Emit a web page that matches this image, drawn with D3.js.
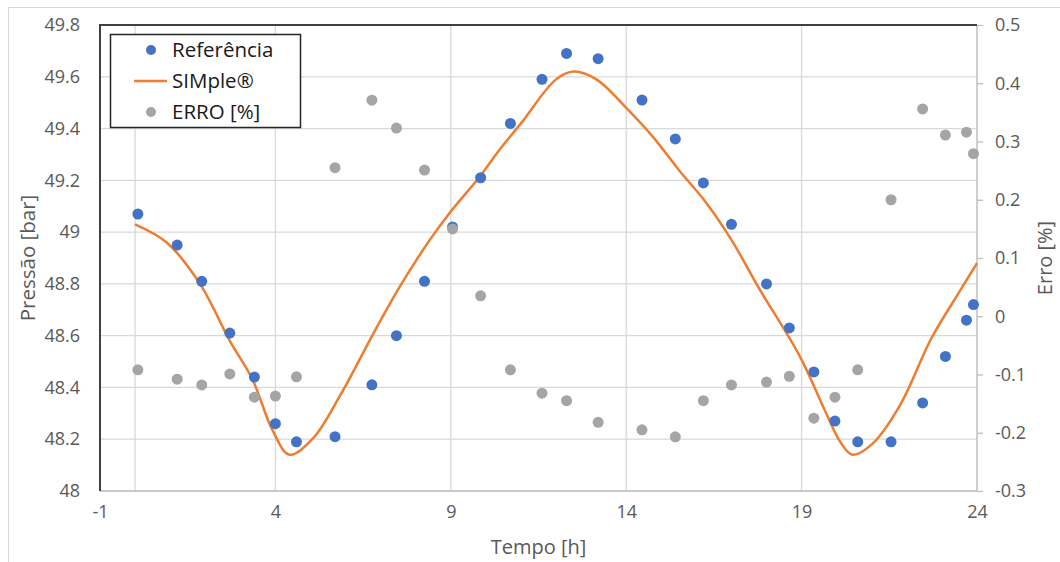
<!DOCTYPE html>
<html>
<head>
<meta charset="utf-8">
<script src="https://cdn.jsdelivr.net/npm/d3@7"></script>
<style>
  body { margin: 0; background: #fff; }
  svg text { font-family: "Open Sans", "Noto Sans", sans-serif; }
</style>
</head>
<body>
<div id="container"></div>
<script>
/* DATA */
// time of each reference sample [h]
const tempo = [0.08, 1.2, 1.9, 2.7, 3.4, 4.0, 4.6, 5.7, 6.75, 7.45, 8.25, 9.05, 9.85, 10.7, 11.6, 12.3,
  13.2, 14.45, 15.4, 16.2, 17.0, 18.0, 18.65, 19.35, 19.95, 20.6, 21.55, 22.45, 23.1, 23.7, 23.9];
// Referência [bar]
const referencia = [49.07, 48.95, 48.81, 48.61, 48.44, 48.26, 48.19, 48.21, 48.41, 48.60, 48.81, 49.02,
  49.21, 49.42, 49.59, 49.69, 49.67, 49.51, 49.36, 49.19, 49.03, 48.80, 48.63, 48.46, 48.27, 48.19,
  48.19, 48.34, 48.52, 48.66, 48.72];
// ERRO [%]
const erro = [-0.092, -0.108, -0.118, -0.099, -0.139, -0.137, -0.104, 0.255, 0.371, 0.323, 0.251, 0.150,
  0.035, -0.092, -0.132, -0.145, -0.182, -0.195, -0.207, -0.145, -0.118, -0.113, -0.103, -0.175,
  -0.139, -0.092, 0.200, 0.356, 0.311, 0.316, 0.279];
// SIMple® curve
const simTempo = [0, 0.9, 1.85, 2.7, 3.35, 3.9, 4.4, 5.05, 5.85, 6.8, 7.55, 8.4, 9.0, 9.8, 10.4, 11.0,
  12.0, 12.5, 13.15, 14.0, 14.75, 15.5, 16.3, 17.0, 17.8, 18.95, 19.7, 20.1, 20.45, 21.0, 21.8, 22.7, 23.5, 24.0];
const simPressao = [49.03, 48.96, 48.80, 48.58, 48.43, 48.24, 48.14, 48.20, 48.37, 48.61, 48.79,
  48.97, 49.08, 49.21, 49.32, 49.42, 49.59, 49.62, 49.59, 49.48, 49.37, 49.24, 49.11, 48.97, 48.78,
  48.52, 48.30, 48.19, 48.14, 48.18, 48.33, 48.59, 48.77, 48.88];

const xTicks = [-1, 4, 9, 14, 19, 24];
const yLeftTicks = [48, 48.2, 48.4, 48.6, 48.8, 49, 49.2, 49.4, 49.6, 49.8];
const yRightTicks = [-0.3, -0.2, -0.1, 0, 0.1, 0.2, 0.3, 0.4, 0.5];

/* CONSTANTS */
const width = 1060, height = 562;
const plotLeft = 100, plotRight = 977, plotTop = 25, plotBottom = 491;
const fmt = d => String(+d.toFixed(1));

const svg = d3.select("#container").append("svg")
  .attr("width", width)
  .attr("height", height);

// chart area border
svg.append("rect")
  .attr("x", 8.5).attr("y", 7.5)
  .attr("width", width + 20).attr("height", height + 20)
  .attr("fill", "#fff").attr("stroke", "#d9d9d9");

const xScale = d3.scaleLinear().domain([-1, 24]).range([plotLeft, plotRight]);
const yLeft = d3.scaleLinear().domain([48, 49.8]).range([plotBottom, plotTop]);
const yRight = d3.scaleLinear().domain([-0.3, 0.5]).range([plotBottom, plotTop]);

// gridlines
svg.append("g").selectAll("line")
  .data(yLeftTicks)
  .join("line")
  .attr("x1", plotLeft).attr("x2", plotRight)
  .attr("y1", d => yLeft(d)).attr("y2", d => yLeft(d))
  .attr("stroke", "#d9d9d9").attr("stroke-width", 1.3);

svg.append("g").selectAll("line")
  .data([0, 4, 9, 14, 19])
  .join("line")
  .attr("x1", d => xScale(d)).attr("x2", d => xScale(d))
  .attr("y1", plotTop).attr("y2", plotBottom)
  .attr("stroke", "#d9d9d9").attr("stroke-width", 1.3);

// axes
const xAxis = d3.axisBottom(xScale).tickValues(xTicks).tickFormat(fmt).tickSize(0).tickPadding(14);
const yAxisL = d3.axisLeft(yLeft).tickValues(yLeftTicks).tickFormat(fmt).tickSize(0).tickPadding(20);
const yAxisR = d3.axisRight(yRight).tickValues(yRightTicks).tickFormat(fmt).tickSize(6).tickPadding(12);

const xg = svg.append("g").attr("transform", `translate(0, ${plotBottom})`).call(xAxis);
const ylg = svg.append("g").attr("transform", `translate(${plotLeft}, 0)`).call(yAxisL);
const yrg = svg.append("g").attr("transform", `translate(${plotRight}, 0)`).call(yAxisR);

[xg, ylg, yrg].forEach(g => {
  g.selectAll("text").attr("fill", "#595959").style("font-size", "18px");
  g.select(".domain").remove();
});
yrg.selectAll(".tick line").attr("stroke", "#bfbfbf").attr("stroke-width", 1.3);

// plot frame: bottom and right gray, left and top dark
svg.append("line").attr("x1", plotLeft).attr("x2", plotRight).attr("y1", plotBottom).attr("y2", plotBottom)
  .attr("stroke", "#bfbfbf").attr("stroke-width", 1.5);
svg.append("line").attr("x1", plotRight).attr("x2", plotRight).attr("y1", plotTop).attr("y2", plotBottom)
  .attr("stroke", "#bfbfbf").attr("stroke-width", 1.5);
svg.append("line").attr("x1", plotLeft).attr("x2", plotRight).attr("y1", plotTop).attr("y2", plotTop)
  .attr("stroke", "#404040").attr("stroke-width", 2);
svg.append("line").attr("x1", plotLeft).attr("x2", plotLeft).attr("y1", plotTop - 1).attr("y2", plotBottom)
  .attr("stroke", "#404040").attr("stroke-width", 2);

// SIMple® line
const simData = simTempo.map((t, i) => ({ t, v: simPressao[i] }));
svg.append("path")
  .datum(simData)
  .attr("fill", "none")
  .attr("stroke", "#ED7D31")
  .attr("stroke-width", 2.5)
  .attr("d", d3.line().x(d => xScale(d.t)).y(d => yLeft(d.v)).curve(d3.curveCatmullRom.alpha(0.5)));

// Referência points
svg.append("g").selectAll("circle")
  .data(tempo.map((t, i) => ({ t, v: referencia[i] })))
  .join("circle")
  .attr("cx", d => xScale(d.t)).attr("cy", d => yLeft(d.v))
  .attr("r", 5.5).attr("fill", "#4472C4");

// ERRO points (secondary axis)
svg.append("g").selectAll("circle")
  .data(tempo.map((t, i) => ({ t, v: erro[i] })))
  .join("circle")
  .attr("cx", d => xScale(d.t)).attr("cy", d => yRight(d.v))
  .attr("r", 5.5).attr("fill", "#A5A5A5");

// axis titles
svg.append("text")
  .attr("x", (plotLeft + plotRight) / 2).attr("y", 554)
  .attr("text-anchor", "middle")
  .attr("fill", "#595959").style("font-size", "20px")
  .text("Tempo [h]");
svg.append("text")
  .attr("transform", `translate(35, ${(plotTop + plotBottom) / 2}) rotate(-90)`)
  .attr("text-anchor", "middle")
  .attr("fill", "#595959").style("font-size", "20.5px")
  .text("Pressão [bar]");
svg.append("text")
  .attr("transform", `translate(1052, ${(plotTop + plotBottom) / 2}) rotate(-90)`)
  .attr("text-anchor", "middle")
  .attr("fill", "#595959").style("font-size", "20px")
  .text("Erro [%]");

// legend
const legend = svg.append("g");
legend.append("rect")
  .attr("x", 110.5).attr("y", 34.5).attr("width", 190).attr("height", 93)
  .attr("fill", "#fff").attr("stroke", "#262626").attr("stroke-width", 1.5);
const items = [
  { label: "Referência", type: "dot", color: "#4472C4" },
  { label: "SIMple®", type: "line", color: "#ED7D31" },
  { label: "ERRO [%]", type: "dot", color: "#A5A5A5" }
];
items.forEach((d, i) => {
  const y = 50 + i * 31;
  if (d.type === "dot") {
    legend.append("circle").attr("cx", 151).attr("cy", y).attr("r", 5).attr("fill", d.color);
  } else {
    legend.append("line").attr("x1", 134).attr("x2", 167).attr("y1", y).attr("y2", y)
      .attr("stroke", d.color).attr("stroke-width", 2.5);
  }
  legend.append("text")
    .attr("x", 172).attr("y", y).attr("dy", "0.35em")
    .attr("fill", "#1a1a1a").style("font-size", "20.5px")
    .text(d.label);
});
</script>
</body>
</html>
